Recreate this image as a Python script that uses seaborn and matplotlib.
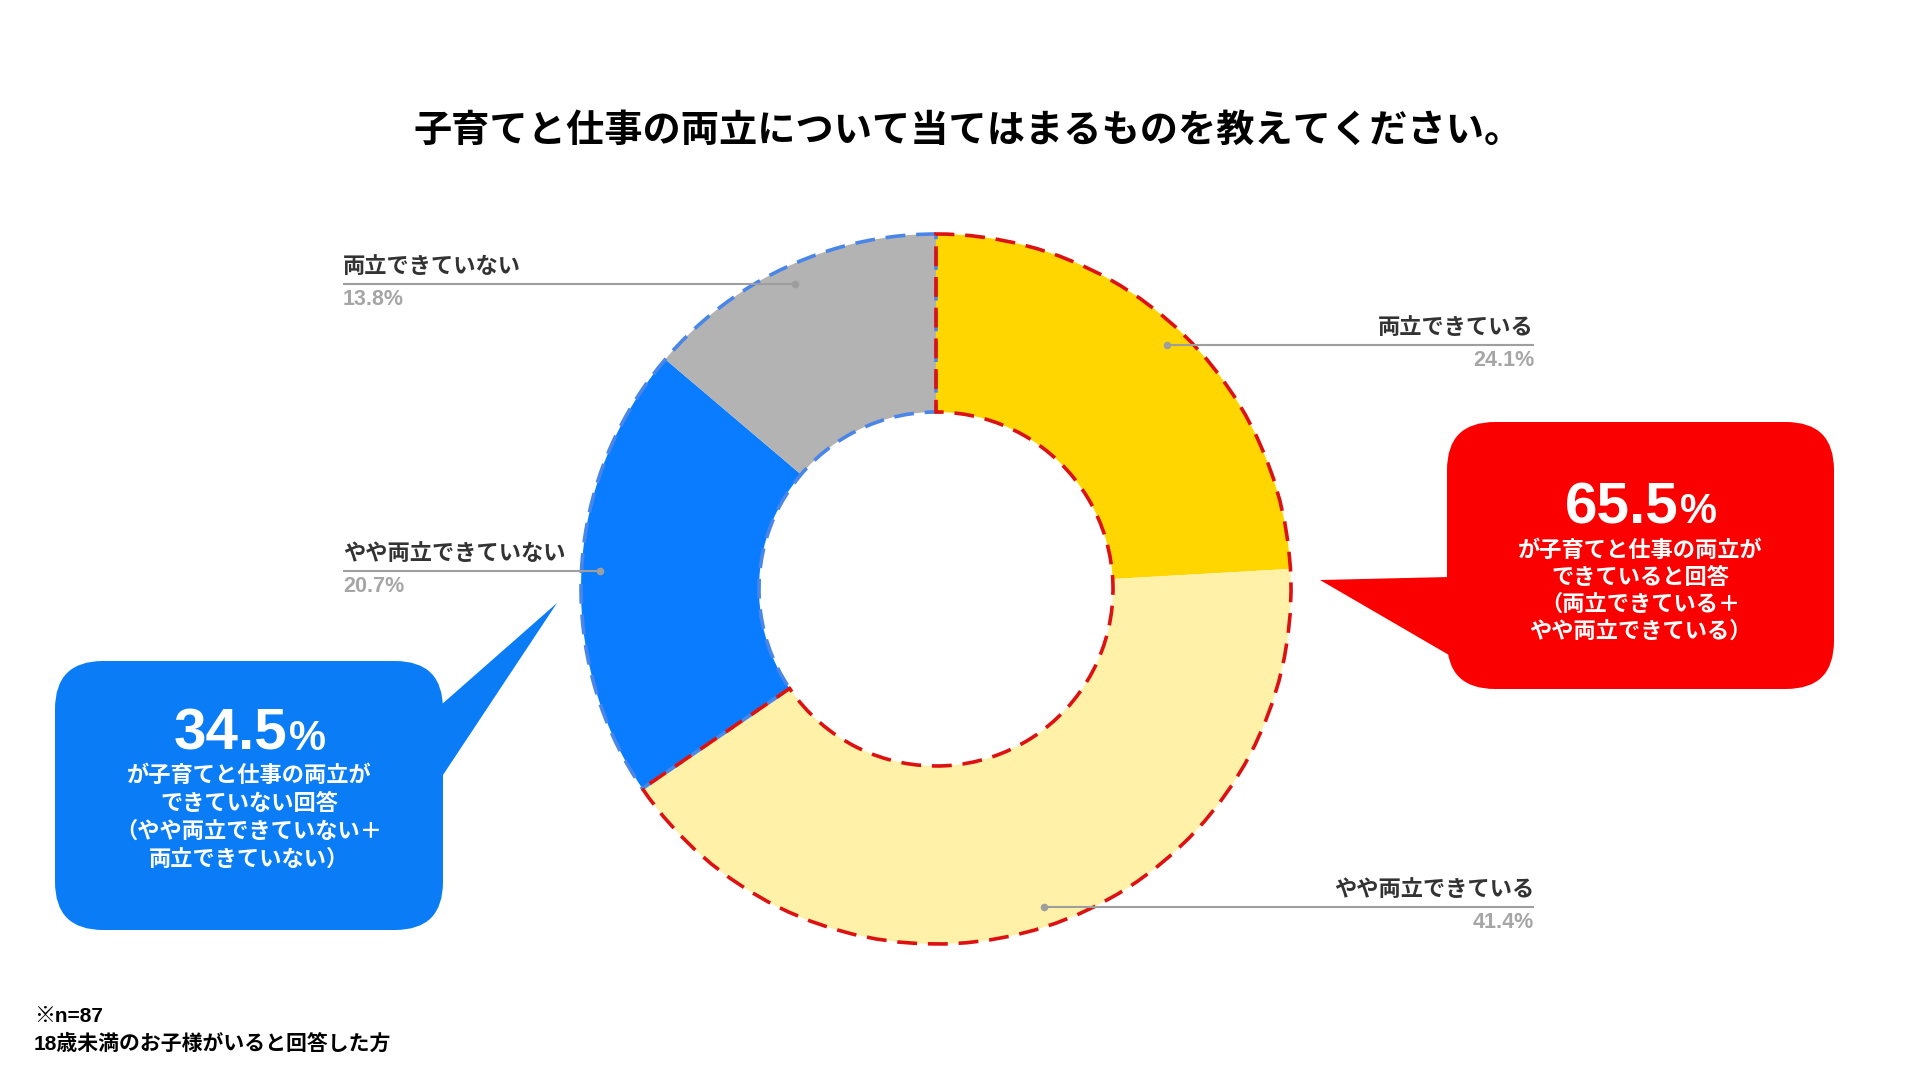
import matplotlib
matplotlib.use("Agg")
import matplotlib.pyplot as plt
import numpy as np
import seaborn as sns
from matplotlib.patches import Wedge, FancyBboxPatch, Polygon

# data
categories = ["両立できている", "やや両立できている", "やや両立できていない", "両立できていない"]
shares = [24.1, 41.4, 20.7, 13.8]
slice_colors = ["#FFD600", "#FFF2A8", "#0A7CFF", "#B3B3B3"]
yes_lines = ["が子育てと仕事の両立が", "できていると回答", "（両立できている＋", "やや両立できている）"]
no_lines = ["が子育てと仕事の両立が", "できていない回答", "（やや両立できていない＋", "両立できていない）"]
title = "子育てと仕事の両立について当てはまるものを教えてください。"
notes = ["※n=87", "18歳未満のお子様がいると回答した方"]

sns.set_theme(style="white")
plt.rcParams["font.family"] = ["Liberation Sans", "Noto Sans CJK JP", "DejaVu Sans"]

W, H = 1919, 1080
fig = plt.figure(figsize=(W / 100, H / 100), dpi=100)
ax = fig.add_axes([0, 0, 1, 1])


def Y(y):
    # image row -> data y
    return H - y


cx, cy = 936, Y(589)
R, ring = 355, 178

ax.pie(shares, colors=slice_colors, startangle=90, counterclock=False,
       radius=R, center=(cx, cy), wedgeprops=dict(width=ring, linewidth=0))

# dashed outlines around the two groups
yes_total = round(sum(shares[:2]), 1)
no_total = round(sum(shares[2:]), 1)
split = 90 - yes_total / 100 * 360
dash = (0, (5.5, 3))
ax.add_patch(Wedge((cx, cy), R, 90, split + 360, width=ring, fill=False,
                   ec="#4A86E8", lw=2.6, ls=dash, zorder=3))
ax.add_patch(Wedge((cx, cy), R, split, 90, width=ring, fill=False,
                   ec="#DD1111", lw=2.6, ls=dash, zorder=4))

# leader lines + labels
mids = 90 - (np.cumsum(shares) - np.array(shares) / 2) * 3.6
for name, pct, a in zip(categories, shares, mids):
    px = cx + 336 * np.cos(np.radians(a))
    py = cy + 336 * np.sin(np.radians(a))
    if np.cos(np.radians(a)) > 0:
        xs, xt, ha = [px, 1534], 1534, "right"
    else:
        xs, xt, ha = [343, px], 343, "left"
    ax.plot(xs, [py, py], color="#9E9E9E", lw=1.5, zorder=6, solid_capstyle="butt")
    ax.plot(px, py, "o", ms=4.5, color="#9E9E9E", zorder=6)
    ax.text(xt, py + 6, name, ha=ha, va="bottom", fontsize=16,
            fontweight="bold", color="#333333")
    ax.text(xt, py - 5, f"{pct}%", ha=ha, va="top", fontsize=15.5,
            fontweight="bold", color="#A6A6A6")


def callout(x0, y0, x1, y1, tri, color, total, lines, line_ys, base_y):
    ax.add_patch(FancyBboxPatch((x0, Y(y1)), x1 - x0, y1 - y0,
                                boxstyle="round,pad=0,rounding_size=48",
                                fc=color, ec="none", zorder=5))
    ax.add_patch(Polygon([(x, Y(y)) for x, y in tri], closed=True,
                         fc=color, ec="none", zorder=5))
    mid = (x0 + x1) / 2
    ax.text(mid + 38, Y(base_y), f"{total}", ha="right", va="baseline",
            fontsize=42, fontweight="bold", color="white", zorder=7)
    ax.text(mid + 40, Y(base_y), "%", ha="left", va="baseline",
            fontsize=30, fontweight="bold", color="white", zorder=7)
    for s, ly in zip(lines, line_ys):
        ax.text(mid, Y(ly), s, ha="center", va="center", fontsize=16,
                fontweight="bold", color="white", zorder=7)


callout(1447, 422, 1834, 689, [(1320, 580), (1449, 577), (1449, 655)],
        "#FA0000", yes_total, yes_lines, [551, 578, 605, 632], 523)
callout(55, 661, 443, 930, [(557, 603), (441, 705), (441, 778)],
        "#0A7CF6", no_total, no_lines, [776, 804, 832, 860], 750)

ax.text(968, Y(132), title, ha="center", va="center", fontsize=27.5,
        fontweight="bold", color="black")
ax.text(34, Y(1016), notes[0], ha="left", va="center", fontsize=15,
        fontweight="bold", color="black")
ax.text(34, Y(1044), notes[1], ha="left", va="center", fontsize=15,
        fontweight="bold", color="black")

ax.set_xlim(0, W)
ax.set_ylim(0, H)
ax.set_aspect("equal")
ax.axis("off")
fig.savefig("out.png", dpi=100)
